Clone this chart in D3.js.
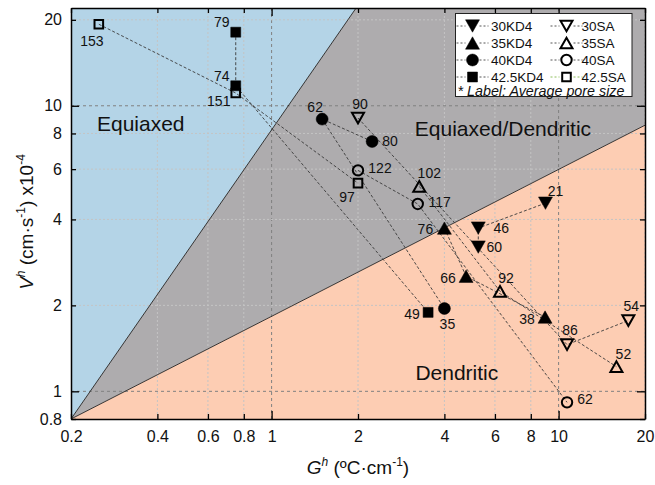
<!DOCTYPE html>
<html>
<head>
<meta charset="utf-8">
<script src="https://cdn.jsdelivr.net/npm/d3@7"></script>
<style>
  html, body { margin: 0; padding: 0; background: #ffffff; }
  svg { display: block; font-family: "Liberation Sans", Arial, sans-serif; }
</style>
</head>
<body>
<svg id="chart" width="655" height="485"></svg>
<script>
// ---------------- data ----------------
const seriesNames = ["30KD4", "35KD4", "40KD4", "42.5KD4", "30SA", "35SA", "40SA", "42.5SA"];
const seriesShapes = ["down", "up", "circle", "square", "down", "up", "circle", "square"];
const seriesFilled = [true, true, true, true, false, false, false, false];

// G^h (ºC/cm), V^h (x1e-4 cm/s), label = average pore size
const g30KD4 = [9.0, 5.25, 5.25],   v30KD4 = [4.56, 3.73, 3.20],  p30KD4 = [21, 46, 60];
const g35KD4 = [4.0, 4.76, 8.97],   v35KD4 = [3.73, 2.53, 1.82],  p35KD4 = [76, 66, 38];
const g40KD4 = [2.24, 1.5, 4.0],    v40KD4 = [7.5, 8.98, 1.95],   p40KD4 = [80, 62, 35];
const g425KD4 = [0.75, 0.75, 3.51], v425KD4 = [18.1, 11.75, 1.89], p425KD4 = [79, 74, 49];
const g30SA = [2.0, 10.7, 17.5],    v30SA = [9.06, 1.457, 1.77],  p30SA = [90, 86, 54];
const g35SA = [3.27, 6.25, 15.9],   v35SA = [5.22, 2.24, 1.22],   p35SA = [102, 92, 52];
const g40SA = [2.0, 3.23, 10.7],    v40SA = [5.94, 4.53, 0.915],  p40SA = [122, 117, 62];
const g425SA = [0.25, 0.75, 2.0],   v425SA = [19.3, 11.08, 5.36], p425SA = [153, 151, 97];

const seriesG = [g30KD4, g35KD4, g40KD4, g425KD4, g30SA, g35SA, g40SA, g425SA];
const seriesV = [v30KD4, v35KD4, v40KD4, v425KD4, v30SA, v35SA, v40SA, v425SA];
const seriesP = [p30KD4, p35KD4, p40KD4, p425KD4, p30SA, p35SA, p40SA, p425SA];

// region boundaries (G, V) in log-log
const boundary1 = [[0.2, 0.8], [1.97, 22]];   // Equiaxed | Equiaxed/Dendritic
const boundary2 = [[0.2, 0.8], [20, 8.55]];   // Equiaxed/Dendritic | Dendritic
const regionNames = ["Equiaxed", "Equiaxed/Dendritic", "Dendritic"];
const regionLabelAt = [[0.35, 8.7], [6.4, 8.3], [4.42, 1.167]];

const xTicks = [0.2, 0.4, 0.6, 0.8, 1, 2, 4, 6, 8, 10, 20];
const xTickLabels = ["0.2", "0.4", "0.6", "0.8", "1", "2", "4", "6", "8", "10", "20"];
const yTicks = [0.8, 1, 2, 4, 6, 8, 10, 20];
const yTickLabels = ["0.8", "1", "2", "4", "6", "8", "10", "20"];
const majorTicks = [1, 10];

// ---------------- layout (label offsets in px, per series point) ----------------
const labelOffsets = [
  [[10, -12], [23, 0], [16, 0]],
  [[-19, 1], [-18, 2], [-18, 2]],
  [[18, 0], [-7, -12], [3, 15]],
  [[-14, -10], [-14, -10], [-16, 2]],
  [[2, -14], [3, -15], [3, -15]],
  [[10, -13], [6, -13], [7, -13]],
  [[22, -2], [22, -2], [18, -3]],
  [[-7, 17], [-17, 8], [-11, 14]]
];

const W = 655, H = 485;
const L = 71, R = 645, T = 8, B = 419;
const svg = d3.select("#chart");

const x = d3.scaleLog().domain([0.2, 20]).range([L, R]);
const y = d3.scaleLog().domain([0.8, 22]).range([B, T]);

const cBlue = "#b4d4e7", cGrey = "#aeacae", cPeach = "#fdcdb3";

svg.append("defs").append("clipPath").attr("id", "clip")
  .append("rect").attr("x", L).attr("y", T).attr("width", R - L).attr("height", B - T);

const regions = svg.append("g").attr("clip-path", "url(#clip)");
const P = (g, v) => [x(g), y(v)];
const poly = pts => "M" + pts.map(p => p.join(",")).join("L") + "Z";
const xd = x.domain(), yd = y.domain();
regions.append("path").attr("fill", cBlue)
  .attr("d", poly([P(xd[0], yd[0]), P(xd[0], yd[1]), P(boundary1[1][0], boundary1[1][1])]));
regions.append("path").attr("fill", cGrey)
  .attr("d", poly([P(xd[0], yd[0]), P(boundary1[1][0], boundary1[1][1]), P(xd[1], yd[1]), P(boundary2[1][0], boundary2[1][1])]));
regions.append("path").attr("fill", cPeach)
  .attr("d", poly([P(xd[0], yd[0]), P(boundary2[1][0], boundary2[1][1]), P(xd[1], yd[0])]));

// grid
const grid = svg.append("g");
xTicks.forEach(t => {
  if (t === xd[0] || t === xd[1]) return;
  const major = majorTicks.includes(t);
  grid.append("line").attr("x1", x(t)).attr("x2", x(t)).attr("y1", T).attr("y2", B)
    .attr("stroke", major ? "#808080" : "#c4c4c4").attr("stroke-width", 1)
    .attr("stroke-dasharray", major ? "3,3" : "2,2");
});
yTicks.forEach(t => {
  if (t === yd[0]) return;
  const major = majorTicks.includes(t);
  grid.append("line").attr("x1", L).attr("x2", R).attr("y1", y(t)).attr("y2", y(t))
    .attr("stroke", major ? "#808080" : "#c4c4c4").attr("stroke-width", 1)
    .attr("stroke-dasharray", major ? "3,3" : "2,2");
});
grid.append("line").attr("x1", x(20)).attr("x2", x(20)).attr("y1", T).attr("y2", B)
  .attr("stroke", "#c4c4c4").attr("stroke-dasharray", "2,2");

// boundary lines
const bl = d3.line().x(d => x(d[0])).y(d => y(d[1]));
[boundary1, boundary2].forEach(b => {
  svg.append("path").attr("d", bl(b)).attr("fill", "none")
    .attr("stroke", "#222").attr("stroke-width", 0.9).attr("clip-path", "url(#clip)");
});

// region labels
regionNames.forEach((n, i) => {
  svg.append("text").attr("x", x(regionLabelAt[i][0])).attr("y", y(regionLabelAt[i][1]))
    .attr("text-anchor", "middle").attr("dominant-baseline", "central")
    .attr("font-size", 21).attr("fill", "#111").text(n);
});

// connecting dashed lines
const line = d3.line().x(d => x(d[0])).y(d => y(d[1]));
seriesNames.forEach((n, i) => {
  const pts = seriesG[i].map((g, j) => [g, seriesV[i][j]]);
  svg.append("path").attr("d", line(pts)).attr("fill", "none")
    .attr("stroke", "#3a3a3a").attr("stroke-width", 0.9).attr("stroke-dasharray", "3,2");
});

// marker shapes
function markerPath(shape, filled) {
  const s = filled ? 1 : 0.86;
  if (shape === "down") { const w = 7 * s, h = 6.2 * s; return `M${-w},${-h}L${w},${-h}L0,${h}Z`; }
  if (shape === "up") { const w = 7 * s, h = 6.2 * s; return `M${-w},${h}L${w},${h}L0,${-h}Z`; }
  if (shape === "square") { const a = 5 * s; return `M${-a},${-a}L${a},${-a}L${a},${a}L${-a},${a}Z`; }
  const r = filled ? 6 : 5.2;
  return `M${r},0A${r},${r},0,1,1,${-r},0A${r},${r},0,1,1,${r},0Z`;
}
function drawMarker(g, shape, filled) {
  g.append("path").attr("d", markerPath(shape, filled))
    .attr("fill", filled ? "#000" : "none")
    .attr("stroke", "#000").attr("stroke-width", filled ? 0.5 : 2);
}

seriesNames.forEach((n, i) => {
  seriesG[i].forEach((g, j) => {
    const gg = svg.append("g").attr("transform", `translate(${x(g)},${y(seriesV[i][j])})`);
    drawMarker(gg, seriesShapes[i], seriesFilled[i]);
    gg.append("text").attr("x", labelOffsets[i][j][0]).attr("y", labelOffsets[i][j][1])
      .attr("text-anchor", "middle").attr("dominant-baseline", "central")
      .attr("font-size", 14).attr("fill", "#111").text(seriesP[i][j]);
  });
});

// axes
function styleAxis(g) {
  g.select(".domain").attr("stroke", "#000").attr("stroke-width", 1.5);
  g.selectAll(".tick line").attr("stroke", "#000").attr("stroke-width", 1.3);
  g.selectAll(".tick text").attr("font-size", 16).attr("fill", "#111")
    .attr("font-family", "'Liberation Sans', Arial, sans-serif");
}
const xAxis = svg.append("g").attr("transform", `translate(0,${B})`)
  .call(d3.axisBottom(x).tickValues(xTicks).tickFormat((d, i) => xTickLabels[i]).tickSizeInner(-5).tickSizeOuter(0).tickPadding(12));
xAxis.selectAll(".tick line").attr("y2", d => majorTicks.includes(d) ? -8 : -5);
styleAxis(xAxis);
const xAxisTop = svg.append("g").attr("transform", `translate(0,${T})`)
  .call(d3.axisTop(x).tickValues(xTicks).tickFormat("").tickSizeInner(-5).tickSizeOuter(0));
xAxisTop.selectAll(".tick line").attr("y2", d => majorTicks.includes(d) ? 8 : 5);
styleAxis(xAxisTop);

const yAxis = svg.append("g").attr("transform", `translate(${L},0)`)
  .call(d3.axisLeft(y).tickValues(yTicks).tickFormat((d, i) => yTickLabels[i]).tickSizeInner(-5).tickSizeOuter(0).tickPadding(9));
yAxis.selectAll(".tick line").attr("x2", d => majorTicks.includes(d) ? 8 : 5);
styleAxis(yAxis);
const yAxisR = svg.append("g").attr("transform", `translate(${R},0)`)
  .call(d3.axisRight(y).tickValues(yTicks).tickFormat("").tickSizeInner(-5).tickSizeOuter(0));
yAxisR.selectAll(".tick line").attr("x2", d => majorTicks.includes(d) ? -8 : -5);
styleAxis(yAxisR);

// axis titles
const xt = svg.append("text").attr("x", 358).attr("y", 474).attr("text-anchor", "middle")
  .attr("font-size", 19).attr("fill", "#111");
xt.append("tspan").attr("font-style", "italic").text("G");
xt.append("tspan").attr("font-style", "italic").attr("font-size", 12).attr("dy", -8).text("h");
xt.append("tspan").attr("dy", 8).text(" (ºC·cm");
xt.append("tspan").attr("font-size", 12).attr("dy", -8).text("-1");
xt.append("tspan").attr("dy", 8).text(")");

const yt = svg.append("text").attr("transform", "translate(33,222) rotate(-90)").attr("text-anchor", "middle")
  .attr("font-size", 19).attr("fill", "#111");
yt.append("tspan").attr("font-style", "italic").text("V");
yt.append("tspan").attr("font-style", "italic").attr("font-size", 12).attr("dy", -8).text("h");
yt.append("tspan").attr("dy", 8).text(" (cm·s");
yt.append("tspan").attr("font-size", 12).attr("dy", -8).text("-1");
yt.append("tspan").attr("dy", 8).text(") x10");
yt.append("tspan").attr("font-size", 12).attr("dy", -8).text("-4");

// legend
const lg = svg.append("g");
lg.append("rect").attr("x", 455.5).attr("y", 13.5).attr("width", 176.5).attr("height", 83)
  .attr("fill", "#fff").attr("stroke", "#222").attr("stroke-width", 1);
const rowY = [26, 43, 60, 77];
const colSym = [472.5, 566.5];
const colTxt = [491, 581.5];
seriesNames.forEach((n, i) => {
  const col = i < 4 ? 0 : 1, row = i % 4;
  const cx = colSym[col], cy = rowY[row];
  const dashColor = i === 7 ? "#8cbf5a" : "#555";
  lg.append("line").attr("x1", cx - 16).attr("x2", cx - 7).attr("y1", cy).attr("y2", cy)
    .attr("stroke", dashColor).attr("stroke-dasharray", "2,2");
  lg.append("line").attr("x1", cx + 7).attr("x2", cx + 16).attr("y1", cy).attr("y2", cy)
    .attr("stroke", dashColor).attr("stroke-dasharray", "2,2");
  const gg = lg.append("g").attr("transform", `translate(${cx},${cy})`);
  drawMarker(gg, seriesShapes[i], seriesFilled[i]);
  lg.append("text").attr("x", colTxt[col]).attr("y", cy).attr("dominant-baseline", "central")
    .attr("font-size", 13.5).attr("fill", "#111").text(n);
});
lg.append("text").attr("x", 457.5).attr("y", 91).attr("dominant-baseline", "central")
  .attr("font-size", 14.3).attr("font-style", "italic").attr("fill", "#111")
  .text("* Label: Average pore size");
</script>
</body>
</html>
